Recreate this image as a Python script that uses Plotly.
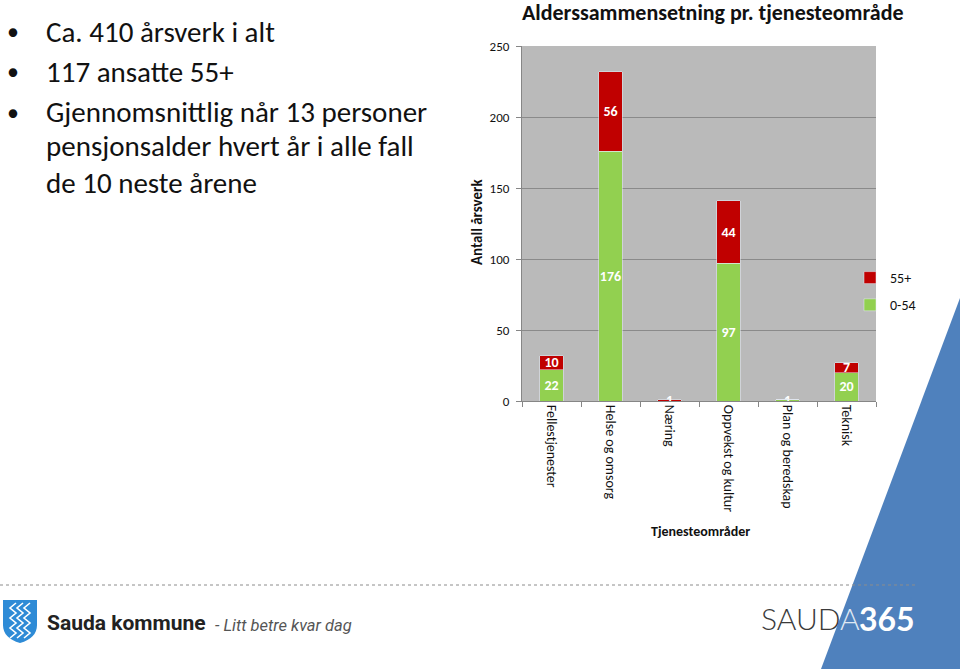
import plotly.graph_objects as go

# ---------------- data ----------------
categories = ["Fellestjenester", "Helse og omsorg", "Næring", "Oppvekst og kultur",
              "Plan og beredskap", "Teknisk"]
young_0_54 = [22, 176, 0, 97, 1, 20]
old_55 = [10, 56, 1, 44, 0, 7]
y_ticks = [0, 50, 100, 150, 200, 250]
bullets = ["Ca. 410 årsverk i alt", "117 ansatte 55+",
           "Gjennomsnittlig når 13 personer"]
bullet_cont = ["pensjonsalder hvert år i alle fall", "de 10 neste årene"]

W, H = 960, 669
FONT = "Carlito, Lato, sans-serif"
RED = "#C00000"
GREEN = "#92D050"


def px(x):
    return x / W


def py(y):
    return 1 - y / H


def lbl(vals):
    return [str(v) if v else "" for v in vals]


fig = go.Figure()
fig.add_trace(go.Bar(
    x=categories, y=young_0_54, name="0-54", marker_color=GREEN,
    text=lbl(young_0_54), textposition="inside", insidetextanchor="middle",
    constraintext="none", textangle=0, legendrank=2, legendgroup="g2",
    textfont=dict(family=FONT, size=14, color="white", weight="bold"),
    hoverinfo="skip"))
fig.add_trace(go.Bar(
    x=categories, y=old_55, name="55+", marker_color=RED,
    text=lbl(old_55), textposition="inside", insidetextanchor="middle",
    constraintext="none", textangle=0, legendrank=1, legendgroup="g1",
    textfont=dict(family=FONT, size=14, color="white", weight="bold"),
    hoverinfo="skip"))

shapes = []
# blue triangle
shapes.append(dict(type="path", xref="paper", yref="paper", layer="below",
                   path=f"M {px(960)} {py(298)} L {px(960)} {py(669)} L {px(821)} {py(669)} Z",
                   fillcolor="#4F81BD", line=dict(width=0)))
# dotted separator
shapes.append(dict(type="line", xref="paper", yref="paper",
                   x0=px(0), x1=px(917), y0=py(585), y1=py(585),
                   line=dict(color="#8c8c8c", width=1, dash="dot")))
# shield
sx0, sx1, sy0, sy1 = 3, 37, 600, 643
shapes.append(dict(type="path", xref="paper", yref="paper",
                   path=(f"M {px(sx0)} {py(sy0)} L {px(sx1)} {py(sy0)} L {px(sx1)} {py(625)} "
                         f"Q {px(sx1)} {py(638)} {px(20)} {py(sy1)} "
                         f"Q {px(sx0)} {py(638)} {px(sx0)} {py(625)} Z"),
                   fillcolor="#2E8BD6", line=dict(width=0)))
for off in (-7, 0, 7):
    pts = []
    yy = 603
    k = 0
    while yy <= 638:
        xx = 20 + off + (3 if k % 2 == 0 else -3)
        pts.append((xx, yy))
        yy += 5
        k += 1
    path = "M " + " L ".join(f"{px(a)} {py(b)}" for a, b in pts)
    shapes.append(dict(type="path", xref="paper", yref="paper", path=path,
                       line=dict(color="white", width=1.6)))

ann = []
# bullets
for i, t in enumerate(bullets):
    yc = 32 + 40 * i
    ann.append(dict(text="•", x=px(13), y=py(yc), xanchor="center", yanchor="middle",
                    showarrow=False, xref="paper", yref="paper",
                    font=dict(family=FONT, size=24, color="#111")))
    ann.append(dict(text=t, x=px(44), y=py(yc), xanchor="left", yanchor="middle",
                    showarrow=False, xref="paper", yref="paper",
                    font=dict(family=FONT, size=29, color="#111")))
for i, t in enumerate(bullet_cont):
    yc = 146 + 37 * i
    ann.append(dict(text=t, x=px(44), y=py(yc), xanchor="left", yanchor="middle",
                    showarrow=False, xref="paper", yref="paper",
                    font=dict(family=FONT, size=29, color="#111")))
# chart title
ann.append(dict(text="<b>Alderssammensetning pr. tjenesteområde</b>", x=px(713), y=py(12),
                xanchor="center", yanchor="middle", showarrow=False, xref="paper", yref="paper",
                font=dict(family=FONT, size=22, color="#111")))
# axis titles
ann.append(dict(text="<b>Antall årsverk</b>", x=px(477), y=py(222), textangle=-90,
                xanchor="center", yanchor="middle", showarrow=False, xref="paper", yref="paper",
                font=dict(family=FONT, size=15, color="#111")))
ann.append(dict(text="<b>Tjenesteområder</b>", x=px(700), y=py(531),
                xanchor="center", yanchor="middle", showarrow=False, xref="paper", yref="paper",
                font=dict(family=FONT, size=14, color="#111")))
# logos
ann.append(dict(text="<b>Sauda kommune</b>", x=px(45), y=py(623), xanchor="left", yanchor="middle",
                showarrow=False, xref="paper", yref="paper",
                font=dict(family="Roboto, sans-serif", size=21, color="#222")))
ann.append(dict(text="<i>- Litt betre kvar dag</i>", x=px(213), y=py(625), xanchor="left",
                yanchor="middle", showarrow=False, xref="paper", yref="paper",
                font=dict(family="Roboto, sans-serif", size=16.5, color="#555")))
ann.append(dict(text="SAUD<span style='color:#dfe8f3'>A</span>", x=px(759), y=py(618),
                xanchor="left", yanchor="middle", showarrow=False, xref="paper", yref="paper",
                font=dict(family="Lato, sans-serif", size=30, color="#3a3a3a", weight=300)))
ann.append(dict(text="<b>365</b>", x=px(917), y=py(618), xanchor="right", yanchor="middle",
                showarrow=False, xref="paper", yref="paper",
                font=dict(family="Lato, sans-serif", size=32, color="white")))

fig.update_layout(
    width=W, height=H, margin=dict(l=0, r=0, t=0, b=0),
    paper_bgcolor="white", plot_bgcolor="#BABABA",
    barmode="stack", bargap=0.6,
    font=dict(family=FONT, size=13, color="#111"),
    shapes=shapes, annotations=ann,
    legend=dict(x=px(850), y=py(262), xanchor="left", yanchor="top",
                traceorder="grouped", tracegroupgap=6,
                font=dict(family=FONT, size=14, color="#111"),
                bgcolor="rgba(0,0,0,0)", itemwidth=30),
    xaxis=dict(domain=[px(522), px(876)], type="category", tickangle=90,
               tickson="boundaries", ticks="outside", ticklen=5, tickcolor="#868686",
               showline=True, linecolor="#868686", linewidth=1, automargin=False,
               tickfont=dict(family=FONT, size=14, color="#111"), showgrid=False),
    yaxis=dict(domain=[py(401), py(46)], range=[0, 250], tickvals=y_ticks,
               ticks="outside", ticklen=5, tickcolor="#868686",
               showline=True, linecolor="#868686", linewidth=1,
               gridcolor="#8a8a8a", gridwidth=1, automargin=False, zeroline=False,
               ticklabelstandoff=4,
               tickfont=dict(family=FONT, size=13, color="#111")),
)

fig.write_html("out.html")
